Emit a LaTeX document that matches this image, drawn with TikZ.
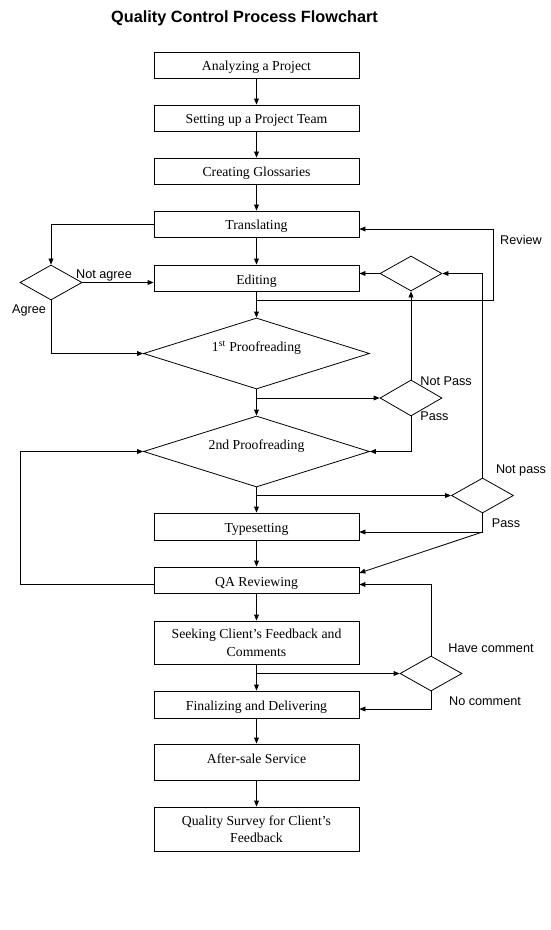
\documentclass[tikz,border=0pt]{standalone}
\usepackage{fontspec}
\setmainfont{Liberation Serif}
\newfontfamily\arialfont{Liberation Sans}
\usetikzlibrary{shapes.geometric,arrows.meta}
\begin{document}
\begin{tikzpicture}[x=0.75pt,y=-0.75pt,
  line width=0.6pt,
  arr/.style={-{Triangle[length=4.5pt,width=3.6pt]}},
  box/.style={draw, rectangle, minimum width=153.75pt, inner sep=0pt, align=center, font=\fontsize{10.3pt}{12.75pt}\selectfont},
  onebox/.style={box, text height=9.5pt, text depth=0.5pt},
  dia/.style={draw, diamond, inner sep=0pt, minimum width=46.5pt, minimum height=26.25pt},
  bigdia/.style={draw, diamond, inner sep=0pt, aspect=3.2, minimum width=169.5pt, minimum height=53.25pt, font=\fontsize{10.3pt}{12pt}\selectfont, text height=7pt, text depth=10pt},
  lbl/.style={font=\arialfont\fontsize{9.5pt}{11pt}\selectfont, inner sep=0pt}
]
\fill[white] (0,0) rectangle (550,930);
\useasboundingbox (0,0) rectangle (550,930);

\node[font=\arialfont\bfseries\fontsize{12.2pt}{14pt}\selectfont, anchor=base] (title) at (244.5,22.5) {Quality Control Process Flowchart};

% boxes
\node[onebox, minimum height=19.5pt] (A) at (256.5,65) {Analyzing a Project};
\node[onebox, minimum height=19.5pt] (B) at (256.5,118) {Setting up a Project Team};
\node[onebox, minimum height=19.5pt] (C) at (256.5,171) {Creating Glossaries};
\node[onebox, minimum height=19.5pt] (T) at (256.5,224) {Translating};
\node[onebox, minimum height=19.5pt] (E) at (256.5,278) {Editing};
\node[bigdia] (P1) at (256.5,353.5) {1\textsuperscript{st} Proofreading};
\node[bigdia] (P2) at (256.5,451.5) {2nd Proofreading};
\node[onebox, minimum height=20.25pt] (Ty) at (256.5,526.5) {Typesetting};
\node[onebox, minimum height=19.5pt] (QA) at (256.5,580) {QA Reviewing};
\node[box, minimum height=32.25pt, font=\fontsize{10.3pt}{13.5pt}\selectfont] (Seek) at (256.5,642.5) {Seeking Client’s Feedback and\\Comments};
\node[onebox, minimum height=20.25pt] (Fin) at (256.5,704.5) {Finalizing and Delivering};
\node[box, minimum height=27pt, text height=9.5pt, text depth=8pt] (After) at (256.5,762) {After-sale Service};
\node[box, minimum height=33pt] (QS) at (256.5,829) {Quality Survey for Client’s\\Feedback};

% small diamonds
\node[dia] (D1) at (51,282.5) {};
\node[dia] (D2) at (411,273.5) {};
\node[dia, minimum height=27pt] (D3) at (411,398) {};
\node[dia] (D4) at (482.5,495.5) {};
\node[dia] (D5) at (431,673.5) {};

% helper coordinates
\coordinate (e1) at (256.5,300);
\coordinate (r2) at (493,229);
\coordinate (p1b) at (256.5,398);
\coordinate (q1) at (20,584);
\coordinate (p2b) at (256.5,495.5);
\coordinate (d4b) at (482.5,532);
\coordinate (y573) at (0,573);
\coordinate (sb) at (256.5,673.5);
\coordinate (y584) at (0,584.5);
\coordinate (y709) at (0,709);

% main spine
\draw[arr] (A.south) -- (B.north);
\draw[arr] (B.south) -- (C.north);
\draw[arr] (C.south) -- (T.north);
\draw[arr] (T.south) -- (E.north);
\draw[arr] (E.south) -- (P1.north);
\draw[arr] (P1.south) -- (P2.north);
\draw[arr] (P2.south) -- (Ty.north);
\draw[arr] (Ty.south) -- (QA.north);
\draw[arr] (QA.south) -- (Seek.north);
\draw[arr] (Seek.south) -- (Fin.north);
\draw[arr] (Fin.south) -- (After.north);
\draw[arr] (After.south) -- (QS.north);

% agree loop
\draw[arr] (T.west) -| (D1.north);
\draw[arr] (D1.east) -- (D1.east -| E.west);
\draw[arr] (D1.south) |- (P1.west);

% review loop
\draw[arr] (e1) -| (r2) -- (r2 -| T.east);
\draw[arr] (D2.west) -- (D2.west -| E.east);
\draw[arr] (D3.north) -- (D2.south);
\draw[arr] (D4.north) |- (D2.east);

% first proofreading check
\draw[arr] (p1b) -- (D3.west);
\draw[arr] (D3.south) |- (P2.east);

% QA loop back
\draw[arr] (q1 -| QA.west) -- (q1) |- (P2.west);

% second proofreading check
\draw[arr] (p2b) -- (D4.west);
\draw[arr] (D4.south) -- (d4b) -- (d4b -| Ty.east);
\draw[arr] (d4b) -- (QA.east |- y573);

% comments check
\draw[arr] (sb) -- (D5.west);
\draw[arr] (D5.north) |- (QA.east |- y584);
\draw[arr] (D5.south) |- (Fin.east |- y709);

% labels
\node[lbl] (lnotagree) at (104,275.5) {Not agree};
\node[lbl] (lagree) at (29,310.5) {Agree};
\node[lbl] (lreview) at (521,239.5) {Review};
\node[lbl, anchor=west] (lnp1) at (420,381.5) {Not Pass};
\node[lbl, anchor=west] (lp1) at (420,416.5) {Pass};
\node[lbl] (lnp2) at (521,470.5) {Not pass};
\node[lbl] (lp2) at (506,523.5) {Pass};
\node[lbl] (lhave) at (491,648.5) {Have comment};
\node[lbl] (lno) at (485,701.5) {No comment};
\end{tikzpicture}
\end{document}
